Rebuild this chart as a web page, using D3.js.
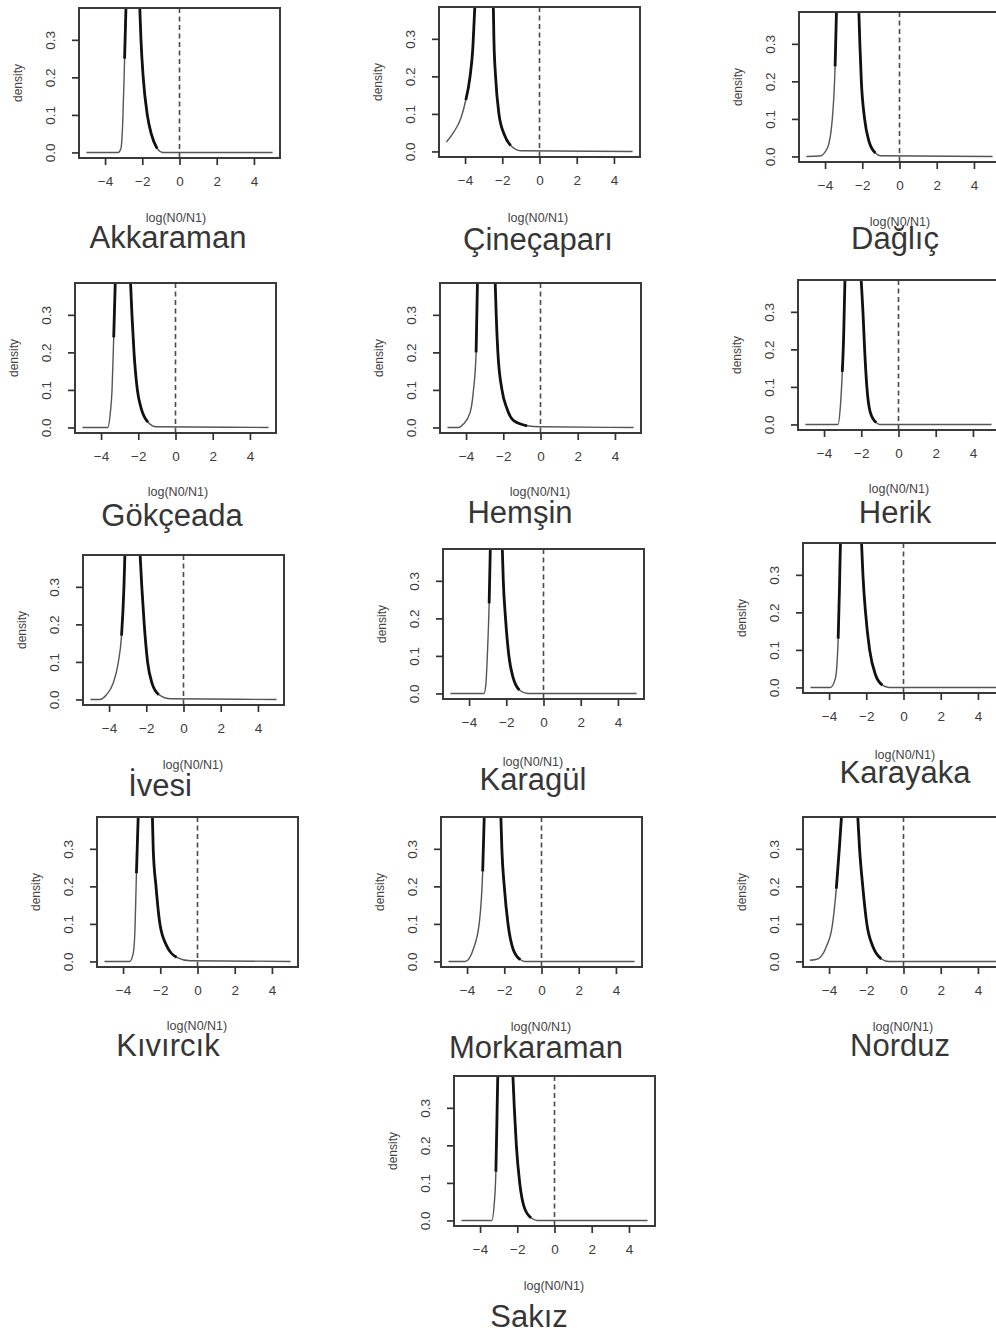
<!DOCTYPE html>
<html><head><meta charset="utf-8">
<script src="https://cdn.jsdelivr.net/npm/d3@7/dist/d3.min.js"></script>
<style>
html,body{margin:0;padding:0;background:#fff;}
svg{display:block;}
text{font-family:"Liberation Sans",Arial,Helvetica,sans-serif;}
</style>
</head><body>
<svg id="chart" width="996" height="1334"></svg>
<script>
// ---------------- data ----------------
const breeds = ["Akkaraman","Çineçaparı","Dağlıç","Gökçeada","Hemşin","Herik","İvesi","Karagül","Karayaka","Kıvırcık","Morkaraman","Norduz","Sakız"];
const xTickValues = [-4,-2,0,2,4];
const xTickLabels = ["\u22124","\u22122","0","2","4"];
const yTickValues = [0,0.1,0.2,0.3];
const yTickLabels = ["0.0","0.1","0.2","0.3"];
const xLabel = "log(N0/N1)";
const yLabel = "density";

const akkaramanX  = [-5,-3.3,-3.15,-3.05,-2.95,-2.88,-2.5,-2.13,-2.07,-1.95,-1.73,-1.52,-1.2,-0.9,5];
const akkaramanY  = [0,0,0.01,0.08,0.25,0.38,0.8,0.38,0.30,0.20,0.10,0.05,0.01,0,0];
const cinecapariX = [-5,-4.6,-4.23,-3.96,-3.73,-3.59,-3.48,-3.0,-2.48,-2.45,-2.36,-2.18,-1.91,-1.55,-1.0,5];
const cinecapariY = [0.025,0.052,0.088,0.137,0.2,0.27,0.38,0.7,0.38,0.3,0.2,0.1,0.047,0.016,0.002,0];
const dagligX     = [-5,-4.3,-3.88,-3.61,-3.46,-3.39,-2.8,-2.18,-2.13,-2.05,-1.875,-1.64,-1.29,-1.02,5];
const dagligY     = [0,0.001,0.022,0.1,0.24,0.38,0.8,0.38,0.3,0.2,0.1,0.04,0.009,0.002,0];
const gokceadaX   = [-5,-3.64,-3.5,-3.41,-3.32,-3.24,-2.82,-2.41,-2.34,-2.23,-2.05,-1.84,-1.48,-1.03,5];
const gokceadaY   = [0,0,0.04,0.1,0.24,0.38,0.8,0.38,0.3,0.2,0.1,0.05,0.014,0.002,0];
const hemsinX     = [-5,-4.4,-4.14,-3.78,-3.6,-3.46,-3.39,-2.9,-2.43,-2.38,-2.29,-2.07,-1.8,-1.44,-0.72,0,5];
const hemsinY     = [0,0,0.009,0.04,0.1,0.2,0.38,0.8,0.38,0.3,0.2,0.1,0.05,0.018,0.0045,0.002,0];
const herikX      = [-5,-3.25,-3.12,-3.02,-2.95,-2.88,-2.45,-2.0,-1.91,-1.82,-1.7,-1.52,-1.2,-1.02,5];
const herikY      = [0,0,0.05,0.14,0.23,0.38,0.8,0.38,0.3,0.2,0.1,0.033,0.005,0,0];
const ivesiX      = [-5,-4.5,-4.15,-3.78,-3.51,-3.33,-3.2,-3.15,-2.75,-2.33,-2.24,-2.11,-1.93,-1.69,-1.33,-0.69,5];
const ivesiY      = [0,0,0.012,0.043,0.097,0.17,0.3,0.385,0.8,0.385,0.3,0.2,0.1,0.043,0.013,0.002,0];
const karagulX    = [-5,-3.2,-3.1,-3.01,-2.92,-2.86,-2.54,-2.21,-2.16,-2.04,-1.86,-1.62,-1.3,-0.85,5];
const karagulY    = [0,0,0.022,0.11,0.24,0.38,0.8,0.38,0.3,0.2,0.1,0.04,0.009,0,0];
const karayakaX   = [-5,-3.93,-3.66,-3.51,-3.44,-3.39,-2.82,-2.25,-2.18,-2.04,-1.82,-1.5,-1.14,-0.77,5];
const karayakaY   = [0,0,0.024,0.13,0.265,0.38,0.8,0.38,0.3,0.2,0.1,0.033,0.006,0,0];
const kivircikX   = [-5,-3.64,-3.46,-3.37,-3.28,-3.19,-2.8,-2.42,-2.38,-2.23,-2.02,-1.66,-1.12,-0.4,5];
const kivircikY   = [0,0,0.02,0.073,0.235,0.38,0.8,0.38,0.3,0.2,0.1,0.042,0.011,0.002,0];
const morkaramanX = [-5,-4.1,-3.67,-3.34,-3.16,-3.08,-2.63,-2.18,-2.13,-2.0,-1.8,-1.52,-1.14,-0.92,5];
const morkaramanY = [0,0,0.032,0.104,0.24,0.38,0.8,0.38,0.3,0.2,0.1,0.032,0.005,0,0];
const norduzX     = [-5.03,-4.59,-4.15,-3.83,-3.61,-3.45,-3.34,-2.9,-2.45,-2.36,-2.19,-1.97,-1.64,-1.2,-0.77,5];
const norduzY     = [0.003,0.007,0.039,0.094,0.194,0.3,0.38,0.8,0.38,0.3,0.2,0.1,0.039,0.007,0,0];
const sakizX      = [-5,-3.37,-3.24,-3.15,-3.1,-3.05,-2.64,-2.23,-2.16,-2.05,-1.87,-1.62,-1.26,-0.94,5];
const sakizY      = [0,0,0.043,0.13,0.25,0.38,0.8,0.38,0.3,0.2,0.1,0.034,0.007,0,0];

const seriesX = [akkaramanX,cinecapariX,dagligX,gokceadaX,hemsinX,herikX,ivesiX,karagulX,karayakaX,kivircikX,morkaramanX,norduzX,sakizX];
const seriesY = [akkaramanY,cinecapariY,dagligY,gokceadaY,hemsinY,herikY,ivesiY,karagulY,karayakaY,kivircikY,morkaramanY,norduzY,sakizY];

// ---------------- layout (pixel positions of each sub-figure) ----------------
// box: left, top ; title: centre x, baseline ; xlab: centre x, centre y
const layout = [
  {l:79, t:8,   tx:168, ty:248,  lx:176, ly:218},
  {l:439,t:7,   tx:538, ty:250,  lx:538, ly:218},
  {l:799,t:12,  tx:895, ty:249,  lx:900, ly:222},
  {l:75, t:283, tx:172, ty:526,  lx:178, ly:492},
  {l:440,t:283, tx:520, ty:523,  lx:540, ly:492},
  {l:798,t:280, tx:895, ty:523,  lx:899, ly:489},
  {l:83, t:555, tx:160, ty:796,  lx:193, ly:765},
  {l:443,t:549, tx:533, ty:790,  lx:533, ly:762},
  {l:803,t:543, tx:905, ty:783,  lx:905, ly:755},
  {l:97, t:817, tx:168, ty:1056, lx:197, ly:1026},
  {l:441,t:817, tx:536, ty:1058, lx:541, ly:1027},
  {l:803,t:817, tx:900, ty:1056, lx:903, ly:1027},
  {l:454,t:1076,tx:529, ty:1327, lx:554, ly:1286}
];
const W = 201, H = 150;

const svg = d3.select("#chart");

breeds.forEach((name, i) => {
  const L = layout[i];
  const g = svg.append("g").attr("transform", `translate(${L.l},${L.t})`);
  const x = d3.scaleLinear().domain([-5.4, 5.4]).range([0, W]);
  const y = d3.scaleLinear().domain([-0.0148, 0.3848]).range([H, 0]);

  const clipId = "clip" + i;
  g.append("clipPath").attr("id", clipId).append("rect")
    .attr("x", 0).attr("y", 0).attr("width", W).attr("height", H);

  const pts = seriesX[i].map((v, k) => [v, seriesY[i][k]]);
  const line = d3.line().x(d => x(d[0])).y(d => y(d[1])).curve(d3.curveMonotoneX);

  const plot = g.append("g").attr("clip-path", `url(#${clipId})`);
  // dashed reference line at 0
  plot.append("line")
    .attr("x1", x(0)).attr("x2", x(0)).attr("y1", 0).attr("y2", H)
    .attr("stroke", "#4a4a4a").attr("stroke-width", 1.6).attr("stroke-dasharray", "5,3.5");
  // full density curve (thin)
  plot.append("path").attr("d", line(pts))
    .attr("fill", "none").attr("stroke", "#555").attr("stroke-width", 1.4);
  // steep part drawn heavier
  const peakIdx = d3.maxIndex(pts, d => d[1]);
  let a = pts.findIndex((d, k) => k <= peakIdx && d[1] >= 0.12);
  let b = -1;
  pts.forEach((d, k) => { if (k >= peakIdx && d[1] >= 0.004) b = k; });
  plot.append("path").attr("d", line(pts.slice(a, b + 1)))
    .attr("fill", "none").attr("stroke", "#111").attr("stroke-width", 2.8);

  // box
  g.append("rect").attr("x", 0).attr("y", 0).attr("width", W).attr("height", H)
    .attr("fill", "none").attr("stroke", "#3a3a3a").attr("stroke-width", 2);

  // x axis
  const xa = g.append("g").attr("transform", `translate(0,${H})`)
    .call(d3.axisBottom(x).tickValues(xTickValues).tickSize(7).tickPadding(11)
      .tickFormat((d, k) => xTickLabels[k]));
  xa.select(".domain").remove();
  xa.selectAll("line").attr("stroke", "#333").attr("stroke-width", 1.7);
  xa.selectAll("text").attr("font-size", 13.5).attr("fill", "#3c3c3c")
    .attr("font-family", '"Liberation Sans",Arial,sans-serif');

  // y axis
  const ya = g.append("g")
    .call(d3.axisLeft(y).tickValues(yTickValues).tickSize(7)
      .tickFormat((d, k) => yTickLabels[k]));
  ya.select(".domain").remove();
  ya.selectAll("line").attr("stroke", "#333").attr("stroke-width", 1.7);
  ya.selectAll("text")
    .attr("x", 0).attr("y", 0).attr("dy", 0)
    .attr("text-anchor", "middle")
    .attr("transform", "translate(-24,0) rotate(-90)")
    .attr("font-size", 13.5).attr("fill", "#3c3c3c")
    .attr("font-family", '"Liberation Sans",Arial,sans-serif');

  // y label
  g.append("text").attr("transform", `translate(-57,${H / 2}) rotate(-90)`)
    .attr("text-anchor", "middle").attr("font-size", 12).attr("fill", "#444")
    .text(yLabel);

  // x label
  svg.append("text").attr("x", L.lx).attr("y", L.ly).attr("dy", "0.35em")
    .attr("text-anchor", "middle").attr("font-size", 12.5).attr("fill", "#444")
    .text(xLabel);

  // breed title
  svg.append("text").attr("x", L.tx).attr("y", L.ty)
    .attr("text-anchor", "middle").attr("font-size", 31).attr("fill", "#363636")
    .text(name);
});
</script>
</body></html>
